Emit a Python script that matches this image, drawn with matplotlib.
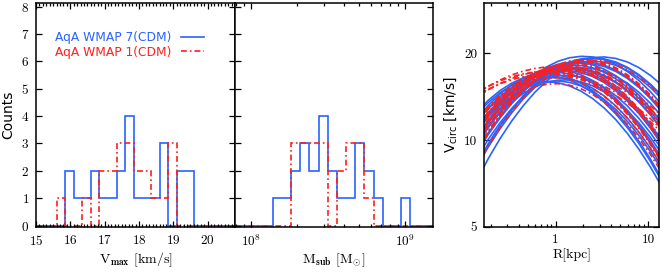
import numpy as np
import matplotlib
matplotlib.use("Agg")
import matplotlib.pyplot as plt
from matplotlib.ticker import FixedLocator, MultipleLocator, FuncFormatter, LogLocator, NullLocator, NullFormatter

plt.rcParams['axes.formatter.use_mathtext'] = True
plt.rcParams['mathtext.fontset'] = 'cm'
plt.rcParams['font.family'] = ['cmr10', 'DejaVu Serif']

BLUE = '#2a62ff'
RED = '#ff1e1e'

# ---------------- data ----------------
vmax_edges = [15.6, 15.85, 16.1, 16.35, 16.6, 16.85, 17.1, 17.35, 17.6, 17.85,
              18.1, 18.35, 18.6, 18.85, 19.1, 19.35, 19.6]
vmax_counts_w7 = [0, 2, 1, 1, 2, 1, 1, 2, 4, 1, 1, 1, 3, 0, 2, 2]
vmax_counts_w1 = [1, 0, 0, 1, 0, 2, 2, 3, 3, 2, 2, 1, 1, 3, 0, 0]

log_msub_lo, log_msub_hi, n_msub_bins = 8.142, 9.033, 15
msub_counts_w7 = [1, 1, 2, 3, 2, 4, 2, 1, 1, 3, 2, 1, 0, 0, 1]
msub_counts_w1 = [0, 0, 3, 3, 3, 3, 0, 2, 3, 3, 1, 0, 0, 0, 0]

r_kpc = [0.1413, 0.1884, 0.2512, 0.3350, 0.4467, 0.5957, 0.7943, 1.0593, 1.4125,
         1.8836, 2.5119, 3.3497, 4.4668, 5.9566, 7.9433, 10.593, 14.125]
vcirc_w7 = [
    [11.77, 12.91, 13.93, 14.78, 15.42, 15.82, 15.95, 15.82, 15.42, 14.78, 13.93, 12.91, 11.77, 10.54, 9.28, 8.04, 6.85],
    [12.32, 13.52, 14.59, 15.48, 16.15, 16.56, 16.70, 16.56, 16.15, 15.48, 14.59, 13.52, 12.32, 11.04, 9.72, 8.42, 7.17],
    [12.54, 13.76, 14.85, 15.75, 16.44, 16.86, 17.00, 16.86, 16.44, 15.75, 14.85, 13.76, 12.54, 11.23, 9.90, 8.57, 7.30],
    [10.85, 12.08, 13.21, 14.21, 15.02, 15.62, 15.96, 16.05, 15.86, 15.41, 14.72, 13.83, 12.77, 11.60, 10.35, 9.09, 7.85],
    [11.16, 12.42, 13.58, 14.60, 15.44, 16.06, 16.41, 16.50, 16.30, 15.84, 15.13, 14.22, 13.13, 11.92, 10.64, 9.35, 8.07],
    [11.63, 12.94, 14.16, 15.22, 16.10, 16.74, 17.11, 17.20, 16.99, 16.51, 15.77, 14.82, 13.69, 12.43, 11.09, 9.74, 8.41],
    [11.87, 13.21, 14.44, 15.53, 16.43, 17.08, 17.46, 17.55, 17.34, 16.85, 16.10, 15.12, 13.96, 12.68, 11.32, 9.94, 8.58],
    [9.94, 11.21, 12.43, 13.55, 14.52, 15.30, 15.85, 16.15, 16.18, 15.93, 15.43, 14.69, 13.76, 12.66, 11.46, 10.20, 8.92],
    [10.31, 11.62, 12.89, 14.05, 15.06, 15.87, 16.44, 16.75, 16.78, 16.52, 16.00, 15.24, 14.26, 13.13, 11.88, 10.57, 9.25],
    [10.71, 12.07, 13.39, 14.59, 15.64, 16.48, 17.08, 17.40, 17.43, 17.16, 16.62, 15.83, 14.82, 13.64, 12.34, 10.98, 9.61],
    [10.86, 12.25, 13.58, 14.80, 15.86, 16.72, 17.32, 17.65, 17.68, 17.41, 16.86, 16.05, 15.03, 13.83, 12.52, 11.14, 9.75],
    [11.05, 12.45, 13.81, 15.05, 16.13, 17.00, 17.61, 17.95, 17.98, 17.71, 17.15, 16.32, 15.28, 14.07, 12.73, 11.33, 9.91],
    [9.72, 11.11, 12.48, 13.79, 14.99, 16.01, 16.81, 17.36, 17.63, 17.60, 17.27, 16.67, 15.82, 14.76, 13.54, 12.21, 10.83],
    [9.77, 11.17, 12.55, 13.87, 15.07, 16.10, 16.91, 17.46, 17.73, 17.70, 17.37, 16.77, 15.91, 14.84, 13.62, 12.28, 10.89],
    [10.02, 11.46, 12.87, 14.22, 15.45, 16.51, 17.34, 17.90, 18.18, 18.15, 17.81, 17.19, 16.31, 15.22, 13.96, 12.59, 11.17],
    [10.27, 11.74, 13.19, 14.58, 15.84, 16.91, 17.76, 18.34, 18.63, 18.59, 18.25, 17.62, 16.72, 15.60, 14.31, 12.90, 11.45],
    [8.70, 10.08, 11.48, 12.86, 14.16, 15.34, 16.32, 17.09, 17.58, 17.80, 17.70, 17.32, 16.66, 15.76, 14.65, 13.40, 12.04],
    [9.05, 10.48, 11.93, 13.37, 14.72, 15.94, 16.97, 17.76, 18.28, 18.49, 18.40, 18.00, 17.31, 16.37, 15.23, 13.92, 12.51],
    [9.14, 10.59, 12.06, 13.51, 14.88, 16.11, 17.15, 17.95, 18.47, 18.69, 18.60, 18.20, 17.50, 16.55, 15.39, 14.07, 12.65],
    [9.56, 11.07, 12.61, 14.13, 15.56, 16.84, 17.93, 18.77, 19.31, 19.54, 19.44, 19.02, 18.30, 17.30, 16.09, 14.71, 13.22],
    [8.07, 9.48, 10.94, 12.42, 13.87, 15.22, 16.42, 17.42, 18.18, 18.64, 18.80, 18.64, 18.18, 17.42, 16.42, 15.22, 13.87],
    [8.24, 9.68, 11.18, 12.69, 14.17, 15.54, 16.77, 17.79, 18.56, 19.04, 19.20, 19.04, 18.56, 17.79, 16.77, 15.54, 14.17],
    [8.29, 9.73, 11.23, 12.75, 14.24, 15.62, 16.86, 17.89, 18.66, 19.14, 19.30, 19.14, 18.66, 17.89, 16.86, 15.62, 14.24],
    [7.25, 8.64, 10.11, 11.63, 13.15, 14.64, 16.01, 17.22, 18.20, 18.93, 19.34, 19.44, 19.21, 18.67, 17.84, 16.76, 15.48],
]
vcirc_w1 = [
    [14.28, 15.04, 15.68, 16.20, 16.59, 16.82, 16.90, 16.82, 16.59, 16.20, 15.68, 15.04, 14.28, 13.44, 12.53, 11.57, 10.58],
    [14.62, 15.39, 16.05, 16.59, 16.98, 17.22, 17.30, 17.22, 16.98, 16.59, 16.05, 15.39, 14.62, 13.76, 12.82, 11.85, 10.83],
    [14.10, 14.95, 15.71, 16.36, 16.87, 17.24, 17.45, 17.50, 17.38, 17.11, 16.68, 16.11, 15.42, 14.62, 13.73, 12.78, 11.78],
    [14.50, 15.38, 16.16, 16.83, 17.35, 17.73, 17.95, 18.00, 17.88, 17.60, 17.16, 16.57, 15.86, 15.04, 14.13, 13.14, 12.11],
    [10.62, 11.81, 12.92, 13.90, 14.69, 15.28, 15.62, 15.70, 15.51, 15.07, 14.40, 13.53, 12.49, 11.34, 10.13, 8.89, 7.68],
    [11.13, 12.38, 13.54, 14.56, 15.40, 16.01, 16.36, 16.45, 16.25, 15.79, 15.09, 14.17, 13.09, 11.89, 10.61, 9.32, 8.04],
    [11.50, 12.79, 13.99, 15.05, 15.91, 16.54, 16.91, 17.00, 16.79, 16.32, 15.59, 14.65, 13.53, 12.28, 10.97, 9.63, 8.31],
    [11.63, 12.94, 14.16, 15.22, 16.10, 16.74, 17.11, 17.20, 16.99, 16.51, 15.77, 14.82, 13.69, 12.43, 11.09, 9.74, 8.41],
    [11.77, 13.09, 14.32, 15.40, 16.28, 16.93, 17.31, 17.40, 17.19, 16.70, 15.96, 14.99, 13.85, 12.57, 11.22, 9.86, 8.51],
    [10.77, 12.14, 13.46, 14.68, 15.73, 16.58, 17.17, 17.50, 17.53, 17.26, 16.72, 15.92, 14.90, 13.72, 12.41, 11.05, 9.66],
    [10.83, 12.21, 13.54, 14.76, 15.82, 16.67, 17.27, 17.60, 17.63, 17.36, 16.81, 16.01, 14.99, 13.79, 12.48, 11.11, 9.72],
    [10.89, 12.28, 13.62, 14.84, 15.91, 16.77, 17.37, 17.70, 17.73, 17.46, 16.91, 16.10, 15.07, 13.87, 12.55, 11.17, 9.78],
    [11.14, 12.56, 13.92, 15.18, 16.27, 17.14, 17.76, 18.10, 18.13, 17.85, 17.29, 16.46, 15.41, 14.18, 12.83, 11.42, 10.00],
    [9.80, 11.20, 12.59, 13.91, 15.11, 16.14, 16.95, 17.51, 17.78, 17.75, 17.42, 16.81, 15.95, 14.88, 13.66, 12.32, 10.92],
    [9.86, 11.27, 12.66, 13.99, 15.20, 16.23, 17.05, 17.61, 17.88, 17.85, 17.52, 16.91, 16.04, 14.97, 13.73, 12.39, 10.99],
    [10.08, 11.52, 12.94, 14.30, 15.54, 16.60, 17.43, 18.00, 18.28, 18.25, 17.91, 17.28, 16.40, 15.30, 14.04, 12.66, 11.23],
    [10.19, 11.64, 13.08, 14.46, 15.71, 16.78, 17.62, 18.20, 18.48, 18.45, 18.10, 17.47, 16.58, 15.47, 14.19, 12.80, 11.35],
    [9.14, 10.59, 12.06, 13.51, 14.88, 16.11, 17.15, 17.95, 18.47, 18.69, 18.60, 18.20, 17.50, 16.55, 15.39, 14.07, 12.65],
    [9.24, 10.71, 12.19, 13.66, 15.04, 16.28, 17.33, 18.14, 18.67, 18.89, 18.80, 18.39, 17.69, 16.73, 15.55, 14.22, 12.78],
    [9.32, 10.79, 12.29, 13.76, 15.16, 16.41, 17.47, 18.29, 18.82, 19.04, 18.95, 18.54, 17.83, 16.86, 15.68, 14.34, 12.88],
    [8.14, 9.56, 11.03, 12.52, 13.98, 15.34, 16.55, 17.56, 18.32, 18.79, 18.95, 18.79, 18.32, 17.56, 16.55, 15.34, 13.98],
]
label_w7 = 'AqA WMAP 7(CDM)'
label_w1 = 'AqA WMAP 1(CDM)'

# ---------------- layout ----------------
W, H = 662, 273
fig = plt.figure(figsize=(W / 100, H / 100), dpi=100)
def frac(x0, y0, x1, y1):
    return [x0 / W, 1 - y1 / H, (x1 - x0) / W, (y1 - y0) / H]

ax1 = fig.add_axes(frac(36, 2.7, 235, 226.7))
ax2 = fig.add_axes(frac(235, 2.7, 433, 226.7))
ax3 = fig.add_axes(frac(484.3, 2.7, 659, 226.7))

LW = 1.2
dash_dot = (0, (3.5, 1.8, 1.0, 1.8))
TICKFS = 9.5

def style_axes(ax):
    for s in ax.spines.values():
        s.set_linewidth(1.1)
    ax.tick_params(which='both', direction='in', top=True, right=True,
                   width=0.9, labelsize=TICKFS, pad=5)
    ax.tick_params(which='major', length=4)
    ax.tick_params(which='minor', length=2)

ylo, yhi = -0.04, 8.14

# ---- panel 1 ----
xlo1, xhi1 = 15.0, 20.8
e = np.array(vmax_edges)
h7 = ax1.stairs(np.r_[0, vmax_counts_w7, 0], np.r_[xlo1, e, xhi1], baseline=None,
                color=BLUE, lw=LW, label=label_w7)
h1 = ax1.stairs(np.r_[0, vmax_counts_w1, 0], np.r_[xlo1, e, xhi1], baseline=None,
                color=RED, lw=LW, linestyle=dash_dot, label=label_w1)
ax1.set_xlim(xlo1, xhi1)
ax1.set_ylim(ylo, yhi)
ax1.xaxis.set_major_locator(MultipleLocator(1))
ax1.xaxis.set_minor_locator(MultipleLocator(0.1))
ax1.yaxis.set_major_locator(MultipleLocator(1))
ax1.yaxis.set_minor_locator(NullLocator())
style_axes(ax1)
ax1.set_xlabel(r'V$_{\mathbf{max}}$ [km/s]', fontsize=10, labelpad=2)
ax1.set_ylabel('Counts', fontsize=10, family='DejaVu Sans', labelpad=4)
leg = ax1.legend(handles=[h7, h1], loc='upper left', bbox_to_anchor=(0.093, 0.872),
                 frameon=False, markerfirst=False, handlelength=1.9, handletextpad=0.85,
                 labelspacing=0.1, borderpad=0, borderaxespad=0,
                 prop={'family': 'DejaVu Sans', 'size': 8.8})
for t, c in zip(leg.get_texts(), [BLUE, RED]):
    t.set_color(c)

# ---- panel 2 ----
me = 10 ** np.linspace(log_msub_lo, log_msub_hi, n_msub_bins + 1)
xlo2, xhi2 = 10 ** 7.898, 10 ** 9.18
ax2.stairs(np.r_[0, msub_counts_w7, 0], np.r_[xlo2, me, xhi2], baseline=None,
           color=BLUE, lw=LW)
ax2.stairs(np.r_[0, msub_counts_w1, 0], np.r_[xlo2, me, xhi2], baseline=None,
           color=RED, lw=LW, linestyle=dash_dot)
ax2.set_xscale('log')
ax2.set_xlim(xlo2, xhi2)
ax2.set_ylim(ylo, yhi)
ax2.yaxis.set_major_locator(MultipleLocator(1))
ax2.yaxis.set_minor_locator(NullLocator())
ax2.yaxis.set_major_formatter(NullFormatter())
ax2.xaxis.set_major_locator(LogLocator(base=10, numticks=10))
ax2.xaxis.set_minor_locator(LogLocator(base=10, subs=np.arange(2, 10), numticks=20))
ax2.xaxis.set_minor_formatter(NullFormatter())
style_axes(ax2)
ax2.set_xlabel(r'M$_{\mathbf{sub}}$ [M$_{\odot}$]', fontsize=10, labelpad=2)

# ---- panel 3 ----
for v in vcirc_w7:
    ax3.plot(r_kpc, v, color=BLUE, lw=LW)
for v in vcirc_w1:
    ax3.plot(r_kpc, v, color=RED, lw=LW, linestyle=dash_dot)
ax3.set_xscale('log')
ax3.set_yscale('log')
ax3.set_xlim(0.17, 13.06)
ax3.set_ylim(5, 30)
ax3.xaxis.set_major_locator(FixedLocator([1, 10]))
ax3.xaxis.set_major_formatter(FuncFormatter(lambda x, p: '%g' % x))
ax3.xaxis.set_minor_locator(LogLocator(base=10, subs=np.arange(2, 10), numticks=20))
ax3.xaxis.set_minor_formatter(NullFormatter())
ax3.yaxis.set_major_locator(FixedLocator([5, 10, 20]))
ax3.yaxis.set_major_formatter(FuncFormatter(lambda x, p: '%g' % x))
ax3.yaxis.set_minor_locator(NullLocator())
ax3.yaxis.set_minor_formatter(NullFormatter())
style_axes(ax3)
ax3.set_xlabel('R[kpc]', fontsize=10, labelpad=2)
ax3.set_ylabel(r'V$_{\rm circ}$ [km/s]', fontsize=10, family='DejaVu Sans',
               math_fontfamily='dejavusans', labelpad=4)

fig.savefig('out.png', dpi=100)
